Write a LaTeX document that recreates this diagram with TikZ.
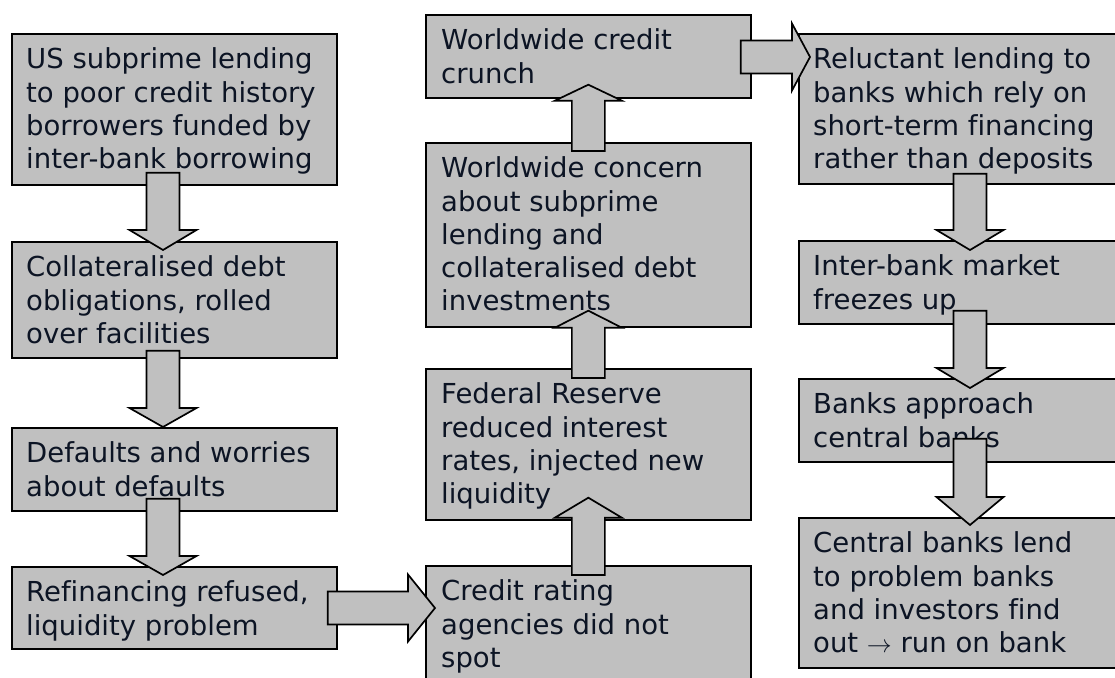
\documentclass[tikz,border=0pt]{standalone}
\usepackage{fontspec}
\setmainfont{DejaVu Sans}[Ligatures=NoCommon]
\usetikzlibrary{calc}
\definecolor{boxgray}{RGB}{192,192,192}
\definecolor{inkc}{RGB}{12,20,36}
\newcommand\arrV[3]{\draw[barrow] ([xshift=-16.5pt]#1) -- ([xshift=-16.5pt,yshift=#3]#2) -- ([xshift=-33.5pt,yshift=#3]#2) -- (#2) -- ([xshift=33.5pt,yshift=#3]#2) -- ([xshift=16.5pt,yshift=#3]#2) -- ([xshift=16.5pt]#1) -- cycle;}
\newcommand\arrH[3]{\draw[barrow] ([yshift=16.5pt]#1) -- ([yshift=16.5pt,xshift=#3]#2) -- ([yshift=33.5pt,xshift=#3]#2) -- (#2) -- ([yshift=-33.5pt,xshift=#3]#2) -- ([yshift=-16.5pt,xshift=#3]#2) -- ([yshift=-16.5pt]#1) -- cycle;}
\tikzset{
  box/.style={draw=black, line width=1.7pt, fill=boxgray, inner sep=0pt, anchor=north west},
  txt/.style={inner sep=0pt, anchor=north west, align=left, text=inkc, font=\fontsize{27.5pt}{33.3pt}\selectfont},
  barrow/.style={draw=black, line width=1.7pt, fill=boxgray, line join=miter}
}
\newcommand\fl{\rule{0pt}{25.5pt}}
\begin{document}
\begin{tikzpicture}[x=1pt,y=1pt]
\clip (0,0) rectangle (1115,-677);
\fill[white] (0,0) rectangle (1115,-677);
% left column
\node[box, minimum width=325pt, minimum height=151pt] (b1) at (11,-33) {};
\node[box, minimum width=325pt, minimum height=116pt] (b2) at (11,-241) {};
\node[box, minimum width=325pt, minimum height=83pt] (b3) at (11,-427) {};
\node[box, minimum width=325pt, minimum height=82pt] (b4) at (11,-566) {};
% middle column
\node[box, minimum width=325pt, minimum height=83pt] (m1) at (425,-14) {};
\node[box, minimum width=325pt, minimum height=184pt] (m2) at (425,-142) {};
\node[box, minimum width=325pt, minimum height=151pt] (m3) at (425,-368) {};
\node[box, minimum width=325pt, minimum height=125pt] (m4) at (425,-565) {};
% right column
\node[box, minimum width=330pt, minimum height=150pt] (r1) at (798,-33) {};
\node[box, minimum width=330pt, minimum height=83pt] (r2) at (798,-240) {};
\node[box, minimum width=330pt, minimum height=83pt] (r3) at (798,-378) {};
\node[box, minimum width=330pt, minimum height=150pt] (r4) at (798,-517) {};
% texts
\node[txt] (tb1) at ([shift={(15,-10)}]b1.north west) {\fl US subprime lending\\to poor credit history\\borrowers funded by\\inter-bank borrowing};
\node[txt] (tb2) at ([shift={(15,-10)}]b2.north west) {\fl Collateralised debt\\obligations, rolled\\over facilities};
\node[txt] (tb3) at ([shift={(15,-10)}]b3.north west) {\fl Defaults and worries\\about defaults};
\node[txt] (tb4) at ([shift={(15,-10)}]b4.north west) {\fl Refinancing refused,\\liquidity problem};
\node[txt] (tm1) at ([shift={(16,-10)}]m1.north west) {\fl Worldwide credit\\crunch};
\node[txt] (tm2) at ([shift={(16,-10)}]m2.north west) {\fl Worldwide concern\\about subprime\\lending and\\collateralised debt\\investments};
\node[txt] (tm3) at ([shift={(16,-10)}]m3.north west) {\fl Federal Reserve\\reduced interest\\rates, injected new\\liquidity};
\node[txt] (tm4) at ([shift={(16,-10)}]m4.north west) {\fl Credit rating\\agencies did not\\spot};
\node[txt] (tr1) at ([shift={(15,-10)}]r1.north west) {\fl Reluctant lending to\\banks which rely on\\short-term financing\\rather than deposits};
\node[txt] (tr2) at ([shift={(15,-10)}]r2.north west) {\fl Inter-bank market\\freezes up};
\node[txt] (tr3) at ([shift={(15,-10)}]r3.north west) {\fl Banks approach\\central banks};
\node[txt] (tr4) at ([shift={(15,-10)}]r4.north west) {\fl Central banks lend\\to problem banks\\and investors find\\out $\rightarrow$ run on bank};
% arrow end points
\coordinate (A1s) at ($(b1.south west)+(152,13)$);
\coordinate (A1e) at ($(b2.north west)+(152,-9)$);
\coordinate (A2s) at ($(b2.south west)+(152,8)$);
\coordinate (A2e) at ($(b3.north west)+(152,0)$);
\coordinate (A3s) at ($(b3.south west)+(152,13)$);
\coordinate (A3e) at ($(b4.north west)+(152,-9)$);
\coordinate (U1s) at ($(m2.north)+(0,-9)$);
\coordinate (U1e) at ($(m1.south)+(0,14)$);
\coordinate (U2s) at ($(m3.north)+(0,-10)$);
\coordinate (U2e) at ($(m2.south)+(0,17)$);
\coordinate (U3s) at ($(m4.north)+(0,-10)$);
\coordinate (U3e) at ($(m3.south)+(0,23)$);
\coordinate (R1s) at ($(r1.south west)+(172,11)$);
\coordinate (R1e) at ($(r2.north west)+(172,-10)$);
\coordinate (R2s) at ($(r2.south west)+(172,14)$);
\coordinate (R2e) at ($(r3.north west)+(172,-10)$);
\coordinate (R3s) at ($(r3.south west)+(172,24)$);
\coordinate (R3e) at ($(r4.north west)+(172,-8)$);
\coordinate (H1s) at ($(m1.north east)+(-11,-43)$);
\coordinate (H1e) at ($(r1.north west)+(12,-24)$);
\coordinate (H2s) at ($(b4.north east)+(-10,-42)$);
\coordinate (H2e) at ($(m4.north west)+(10,-43)$);
% block arrows
\arrV{A1s}{A1e}{20}
\arrV{A2s}{A2e}{19}
\arrV{A3s}{A3e}{19}
\arrV{U1s}{U1e}{-16}
\arrV{U2s}{U2e}{-17}
\arrV{U3s}{U3e}{-20}
\arrV{R1s}{R1e}{20}
\arrV{R2s}{R2e}{20}
\arrV{R3s}{R3e}{28}
\arrH{H1s}{H1e}{-18}
\arrH{H2s}{H2e}{-27}
\end{tikzpicture}
\end{document}
